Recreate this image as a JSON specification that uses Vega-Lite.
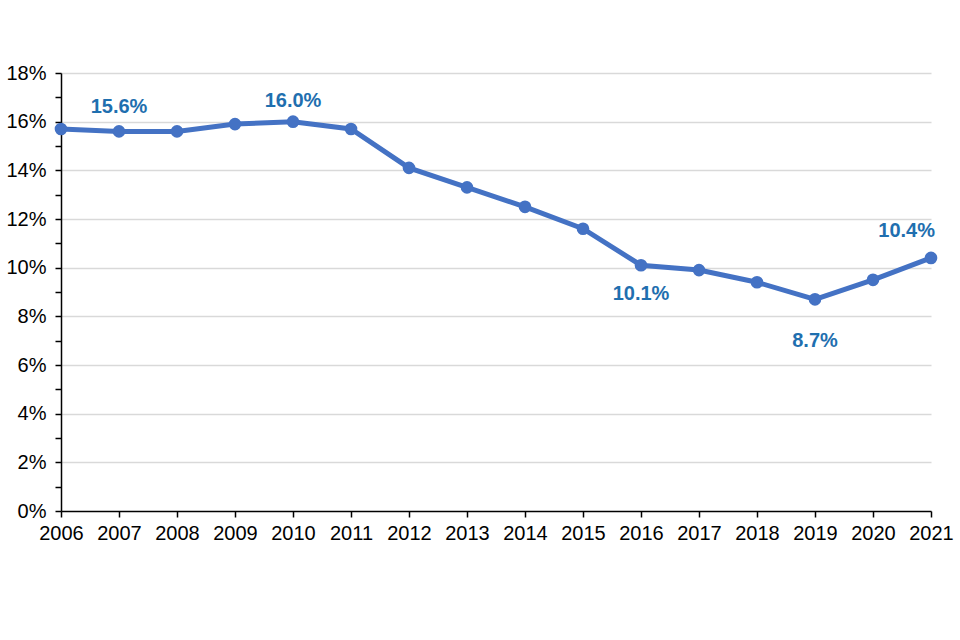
{
  "$schema": "https://vega.github.io/schema/vega-lite/v6.json",
  "autosize": "none",
  "width": 870,
  "height": 438,
  "padding": {"left": 61, "top": 73, "right": 29, "bottom": 129},
  "background": "white",
  "config": {"view": {"stroke": null}, "font": "Liberation Sans"},
  "data": {"values": [
    {"year": 2006, "rate": 0.157},
    {"year": 2007, "rate": 0.156},
    {"year": 2008, "rate": 0.156},
    {"year": 2009, "rate": 0.159},
    {"year": 2010, "rate": 0.160},
    {"year": 2011, "rate": 0.157},
    {"year": 2012, "rate": 0.141},
    {"year": 2013, "rate": 0.133},
    {"year": 2014, "rate": 0.125},
    {"year": 2015, "rate": 0.116},
    {"year": 2016, "rate": 0.101},
    {"year": 2017, "rate": 0.099},
    {"year": 2018, "rate": 0.094},
    {"year": 2019, "rate": 0.087},
    {"year": 2020, "rate": 0.095},
    {"year": 2021, "rate": 0.104}
  ]},
  "encoding": {
    "x": {"field": "year", "type": "quantitative", "scale": {"domain": [2006, 2021], "nice": false, "zero": false},
      "axis": {"title": null, "values": [2006,2007,2008,2009,2010,2011,2012,2013,2014,2015,2016,2017,2018,2019,2020,2021], "format": "d", "grid": false, "domainColor": "black", "domainWidth": 1.5, "tickColor": "black", "tickWidth": 1.5, "tickSize": 6, "labelFontSize": 20, "labelColor": "black", "labelPadding": 6, "labelFlush": false}},
    "y": {"field": "rate", "type": "quantitative", "scale": {"domain": [0, 0.18], "nice": false},
      "axis": {"title": null, "values": [0,0.01,0.02,0.03,0.04,0.05,0.06,0.07,0.08,0.09,0.1,0.11,0.12,0.13,0.14,0.15,0.16,0.17,0.18], "labelExpr": "round(datum.value * 100) % 2 == 0 ? round(datum.value * 100) + '%' : ''", "grid": true, "gridColor": "#D9D9D9", "gridWidth": 1.5, "gridOpacity": {"condition": {"test": "round(datum.value * 100) % 2 == 0 && datum.value > 0", "value": 1}, "value": 0}, "domainColor": "black", "domainWidth": 1.5, "tickColor": "black", "tickWidth": 1.5, "tickSize": 6, "labelFontSize": 20, "labelColor": "black", "labelPadding": 9}}
  },
  "layer": [
    {"mark": {"type": "line", "color": "#4472C4", "strokeWidth": 5}},
    {"mark": {"type": "point", "filled": true, "opacity": 1, "color": "#4472C4", "size": 160}},
    {"transform": [{"filter": "datum.year == 2007"}], "mark": {"type": "text", "dy": -24, "fontSize": 20, "fontWeight": "bold", "color": "#1F6FAF"}, "encoding": {"text": {"field": "rate", "type": "quantitative", "format": ".1%"}}},
    {"transform": [{"filter": "datum.year == 2010"}], "mark": {"type": "text", "dy": -21, "fontSize": 20, "fontWeight": "bold", "color": "#1F6FAF"}, "encoding": {"text": {"field": "rate", "type": "quantitative", "format": ".1%"}}},
    {"transform": [{"filter": "datum.year == 2016"}], "mark": {"type": "text", "dy": 29, "fontSize": 20, "fontWeight": "bold", "color": "#1F6FAF"}, "encoding": {"text": {"field": "rate", "type": "quantitative", "format": ".1%"}}},
    {"transform": [{"filter": "datum.year == 2019"}], "mark": {"type": "text", "dy": 42, "fontSize": 20, "fontWeight": "bold", "color": "#1F6FAF"}, "encoding": {"text": {"field": "rate", "type": "quantitative", "format": ".1%"}}},
    {"transform": [{"filter": "datum.year == 2021"}], "mark": {"type": "text", "dy": -27, "dx": 4, "align": "right", "fontSize": 20, "fontWeight": "bold", "color": "#1F6FAF"}, "encoding": {"text": {"field": "rate", "type": "quantitative", "format": ".1%"}}}
  ]
}
